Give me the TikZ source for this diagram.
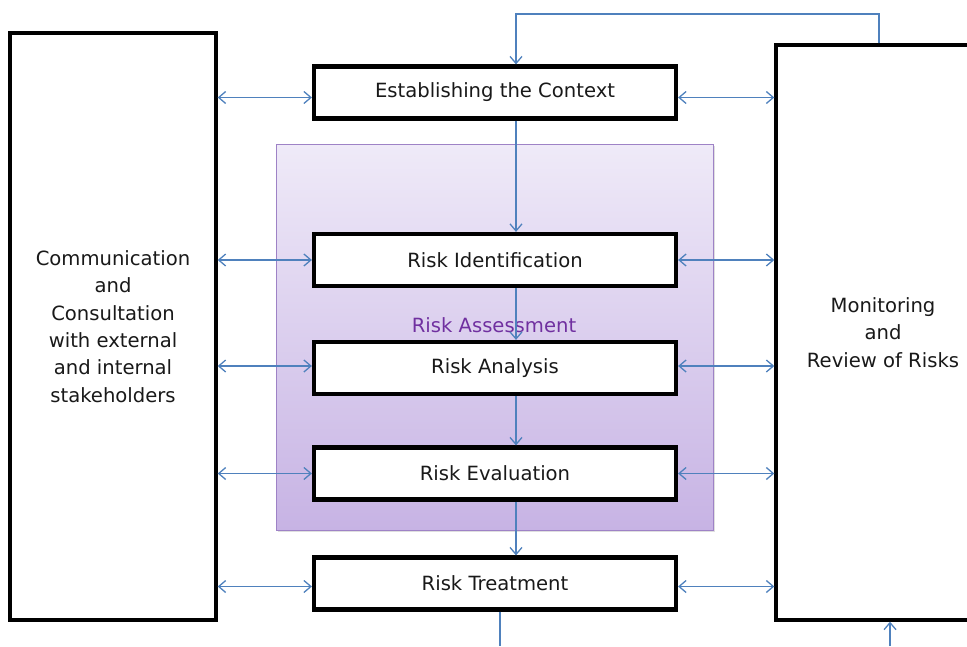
\documentclass[tikz,border=0pt]{standalone}
\usepackage{fontspec}
\setmainfont{DejaVu Sans}
\usetikzlibrary{arrows.meta,shadows}
\definecolor{conn}{HTML}{4F81BD}
\definecolor{raframe}{HTML}{9E82C6}
\definecolor{ratop}{HTML}{EFEAF8}
\definecolor{rabot}{HTML}{C7B3E4}
\definecolor{ratext}{HTML}{7030A0}
\begin{document}
\begin{tikzpicture}[x=1pt,y=-1pt,
  every node/.style={font=\fontsize{19.6}{27.4}\selectfont, text=black!90},
  stepbox/.style={draw=black, line width=4.2pt, fill=white, minimum width=362pt, minimum height=52pt, inner sep=0pt},
  sidebox/.style={draw=black, line width=3.4pt, fill=white, inner sep=0pt, align=center},
  link/.style={draw=conn, line width=1.3pt, -{Straight Barb[length=7pt,width=12pt]}},
  dlink/.style={draw=conn, line width=1.3pt, {Straight Barb[length=7pt,width=12pt]}-{Straight Barb[length=7pt,width=12pt]}}]
\useasboundingbox (0,0) rectangle (967,646);
\clip (0,0) rectangle (967,646);
% Risk assessment area
\node[draw=raframe, line width=1pt, top color=ratop, bottom color=rabot, minimum width=437pt, minimum height=386pt, inner sep=0pt, drop shadow={shadow xshift=2pt, shadow yshift=-2pt, opacity=0.25}] (RA) at (494.5,337) {};
\node[text=ratext] (RAlabel) at (494,325) {Risk Assessment};
% side boxes
\node[sidebox, minimum width=206pt, minimum height=587pt] (L) at (113,326.5) {Communication\\and\\Consultation\\with external\\and internal\\stakeholders};
\node[sidebox, minimum width=214pt, minimum height=575pt] (R) at (883,332.5) {Monitoring\\and\\Review of Risks};
% steps
\node[stepbox] (E) at (495,92.5) {Establishing the Context};
\node[stepbox] (I) at (495,260) {Risk Identification};
\node[stepbox] (A) at (495,368) {Risk Analysis};
\node[stepbox] (V) at (495,473.5) {Risk Evaluation};
\node[stepbox] (T) at (495,583.5) {Risk Treatment};
% vertical flow
\coordinate (fx) at (516,0);
\draw[link] (E.south -| fx) -- (I.north -| fx);
\draw[link] (I.south -| fx) -- (A.north -| fx);
\draw[link] (A.south -| fx) -- (V.north -| fx);
\draw[link] (V.south -| fx) -- (T.north -| fx);
% loop from monitoring back to context
\coordinate (loopR) at (879,0);
\coordinate (loopTop) at (0,14);
\draw[link] (R.north -| loopR) |- (loopTop -| fx) -- (E.north -| fx);
% bottom stubs
\coordinate (outB) at (500,646);
\coordinate (inB) at (890,646);
\draw[draw=conn, line width=1.3pt] (T.south -| outB) -- (outB);
\draw[link] (inB) -- (R.south -| inB);
% horizontal double arrows
\draw[dlink] ([yshift=-5pt]L.east |- E.west) -- ([yshift=-5pt]E.west);
\draw[dlink] ([yshift=-5pt]E.east) -- ([yshift=-5pt]R.west |- E.east);
\foreach \n/\d in {I/0,A/2,V/0,T/-3}{
  \draw[dlink] ([yshift=\d pt]L.east |- \n.west) -- ([yshift=\d pt]\n.west);
  \draw[dlink] ([yshift=\d pt]\n.east) -- ([yshift=\d pt]R.west |- \n.east);
}
\end{tikzpicture}
\end{document}
